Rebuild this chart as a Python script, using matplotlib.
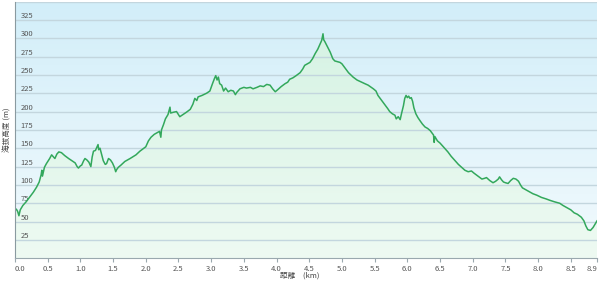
import numpy as np
import matplotlib
matplotlib.use("Agg")
import matplotlib.pyplot as plt
from matplotlib.colors import LinearSegmentedColormap
from matplotlib.patches import Polygon

# ---- data ----
dist_km = [0.00, 0.02, 0.04, 0.06, 0.08, 0.12, 0.17, 0.23, 0.28, 0.33, 0.37, 0.40, 0.41, 0.42, 0.45,
           0.48, 0.53, 0.56, 0.59, 0.61, 0.64, 0.67, 0.71, 0.76, 0.82, 0.87, 0.92, 0.95, 0.97, 1.00,
           1.02, 1.05, 1.07, 1.10, 1.13, 1.16, 1.18, 1.20, 1.23, 1.25, 1.27, 1.28, 1.30, 1.32, 1.35,
           1.38, 1.40, 1.43, 1.46, 1.49, 1.52, 1.54, 1.555, 1.58, 1.62, 1.68, 1.76, 1.85, 1.91, 1.97,
           2.00, 2.04, 2.08, 2.13, 2.17, 2.21, 2.23, 2.24, 2.27, 2.30, 2.34, 2.37, 2.38, 2.42, 2.47,
           2.52, 2.57, 2.62, 2.68, 2.72, 2.75, 2.78, 2.80, 2.86, 2.93, 2.98, 3.02, 3.05, 3.07, 3.09,
           3.11, 3.13, 3.16, 3.19, 3.22, 3.26, 3.30, 3.34, 3.37, 3.39, 3.44, 3.50, 3.54, 3.60, 3.64,
           3.70, 3.75, 3.80, 3.85, 3.90, 3.94, 3.98, 4.02, 4.07, 4.13, 4.17, 4.20, 4.25, 4.30, 4.36,
           4.40, 4.43, 4.47, 4.51, 4.55, 4.59, 4.63, 4.66, 4.69, 4.71, 4.72, 4.74, 4.78, 4.82, 4.86,
           4.89, 4.93, 4.97, 5.00, 5.05, 5.10, 5.17, 5.23, 5.30, 5.35, 5.40, 5.48, 5.52, 5.55, 5.60,
           5.66, 5.70, 5.73, 5.77, 5.81, 5.83, 5.86, 5.89, 5.91, 5.94, 5.96, 5.98, 6.00, 6.02, 6.04,
           6.06, 6.08, 6.10, 6.13, 6.16, 6.19, 6.23, 6.27, 6.31, 6.35, 6.40, 6.41, 6.42, 6.46, 6.50,
           6.57, 6.62, 6.67, 6.73, 6.78, 6.83, 6.88, 6.93, 6.98, 7.02, 7.08, 7.14, 7.18, 7.21, 7.26,
           7.31, 7.35, 7.39, 7.41, 7.44, 7.47, 7.50, 7.54, 7.58, 7.62, 7.66, 7.70, 7.73, 7.76, 7.80,
           7.86, 7.92, 7.98, 8.05, 8.12, 8.18, 8.25, 8.33, 8.38, 8.44, 8.50, 8.55, 8.60, 8.66, 8.70,
           8.73, 8.76, 8.80, 8.84, 8.88, 8.90]
elev_m = [66, 67, 64, 58, 66, 72, 77, 84, 90, 97, 104, 114, 120, 112, 124,
          129, 136, 141, 138, 136, 142, 145, 144, 140, 136, 133, 130, 125, 123, 126,
          127, 133, 136, 134, 131, 125, 138, 146, 147, 151, 155, 148, 150, 143, 133,
          128, 129, 136, 134, 130, 124, 118, 121, 124, 127, 132, 136, 141, 146, 150,
          152, 160, 165, 169, 171, 173, 165, 175, 182, 190, 196, 206, 198, 199, 200,
          193, 196, 199, 203, 210, 218, 215, 220, 222, 225, 228, 238, 245, 249, 243,
          247, 238, 236, 228, 232, 227, 229, 228, 223, 226, 231, 233, 232, 233, 231,
          233, 235, 234, 237, 236, 231, 227, 230, 234, 238, 240, 244, 246, 249, 253,
          258, 263, 265, 267, 272, 279, 285, 291, 297, 306, 298, 295, 288, 281, 272,
          269, 268, 267, 265, 259, 253, 247, 243, 240, 238, 236, 231, 228, 222, 216,
          209, 204, 200, 197, 195, 190, 193, 189, 197, 208, 218, 222, 219, 221, 218,
          219, 214, 205, 197, 192, 188, 183, 179, 177, 174, 168, 158, 166, 160, 157,
          150, 145, 139, 133, 128, 124, 120, 118, 119, 116, 112, 108, 109, 110, 106,
          103, 105, 108, 111, 107, 104, 103, 102, 106, 109, 108, 105, 100, 96, 94,
          91, 88, 86, 83, 81, 79, 77, 75, 72, 69, 66, 62, 60, 56, 51,
          44, 39, 38, 42, 48, 51]
y_ticks = [25, 50, 75, 100, 125, 150, 175, 200, 225, 250, 275, 300, 325]
x_ticks = [0.0, 0.5, 1.0, 1.5, 2.0, 2.5, 3.0, 3.5, 4.0, 4.5, 5.0, 5.5, 6.0, 6.5, 7.0, 7.5, 8.0, 8.5, 8.9]
x_tick_labels = ["0.0", "0.5", "1.0", "1.5", "2.0", "2.5", "3.0", "3.5", "4.0", "4.5",
                 "5.0", "5.5", "6.0", "6.5", "7.0", "7.5", "8.0", "8.5", "8.9"]
x_label = "距離　(km)"
y_label = "海拔高度 (m)"

plt.rcParams['font.family'] = ['Noto Sans CJK JP', 'DejaVu Sans']

W, H = 600, 286
fig = plt.figure(figsize=(W / 100, H / 100), dpi=100)
fig.patch.set_facecolor('white')
ax = fig.add_axes([15 / W, (H - 258.3) / H, (597 - 15) / W, (258.3 - 1.5) / H])

XMAX, YMAX = 8.9, 350
ax.set_xlim(0, XMAX)
ax.set_ylim(0, YMAX)

# background gradient
bg = LinearSegmentedColormap.from_list('bg', ['#f2fafd', '#d2eef9'])
grad = np.linspace(0, 1, 256).reshape(-1, 1)
ax.imshow(grad, cmap=bg, aspect='auto', extent=[0, XMAX, 0, YMAX], origin='lower', zorder=0)

# filled area gradient under curve
fillcm = LinearSegmentedColormap.from_list('fill', ['#eefaf2', '#d6f3e4'])
im = ax.imshow(np.linspace(0, 1, 256).reshape(-1, 1), cmap=fillcm, aspect='auto',
               extent=[0, XMAX, 0, 310], origin='lower', zorder=1)
poly_pts = [(0, 0)] + list(zip(dist_km, elev_m)) + [(dist_km[-1], 0)]
poly = Polygon(poly_pts, closed=True, facecolor='none', edgecolor='none', transform=ax.transData)
ax.add_patch(poly)
im.set_clip_path(poly)

# grid
for yt in y_ticks + [350]:
    ax.axhline(yt, color='#c3d6de', lw=1.0, zorder=2)

ax.plot(dist_km, elev_m, color='#33a85c', lw=1.1, zorder=3, solid_joinstyle='round')

# spines
for s in ['top', 'right']:
    ax.spines[s].set_visible(False)
ax.spines['left'].set_color('#8a9aa0')
ax.spines['bottom'].set_color('#9aa8ae')
ax.spines['left'].set_zorder(4)
ax.spines['bottom'].set_zorder(4)

ax.set_yticks(y_ticks)
ax.set_yticklabels([str(v) for v in y_ticks])
ax.tick_params(axis='y', length=0, pad=-4, labelsize=5.5, labelcolor='#555555')
for lab in ax.get_yticklabels():
    lab.set_horizontalalignment('left')
    lab.set_verticalalignment('bottom')

ax.set_xticks(x_ticks)
ax.set_xticklabels(x_tick_labels)
ax.tick_params(axis='x', length=3, width=0.8, color='#9aa8ae', pad=2, labelsize=5.5, labelcolor='#555555')
xl = ax.get_xticklabels()
xl[0].set_horizontalalignment('left')
xl[-1].set_horizontalalignment('right')

fig.text(300 / W, 1 - 276 / H, x_label, ha='center', va='center', fontsize=5.5, color='#444444')
fig.text(8 / W, 1 - 130 / H, y_label, ha='center', va='center', rotation=90, fontsize=5.5, color='#444444')

fig.savefig('out.png', dpi=100)
